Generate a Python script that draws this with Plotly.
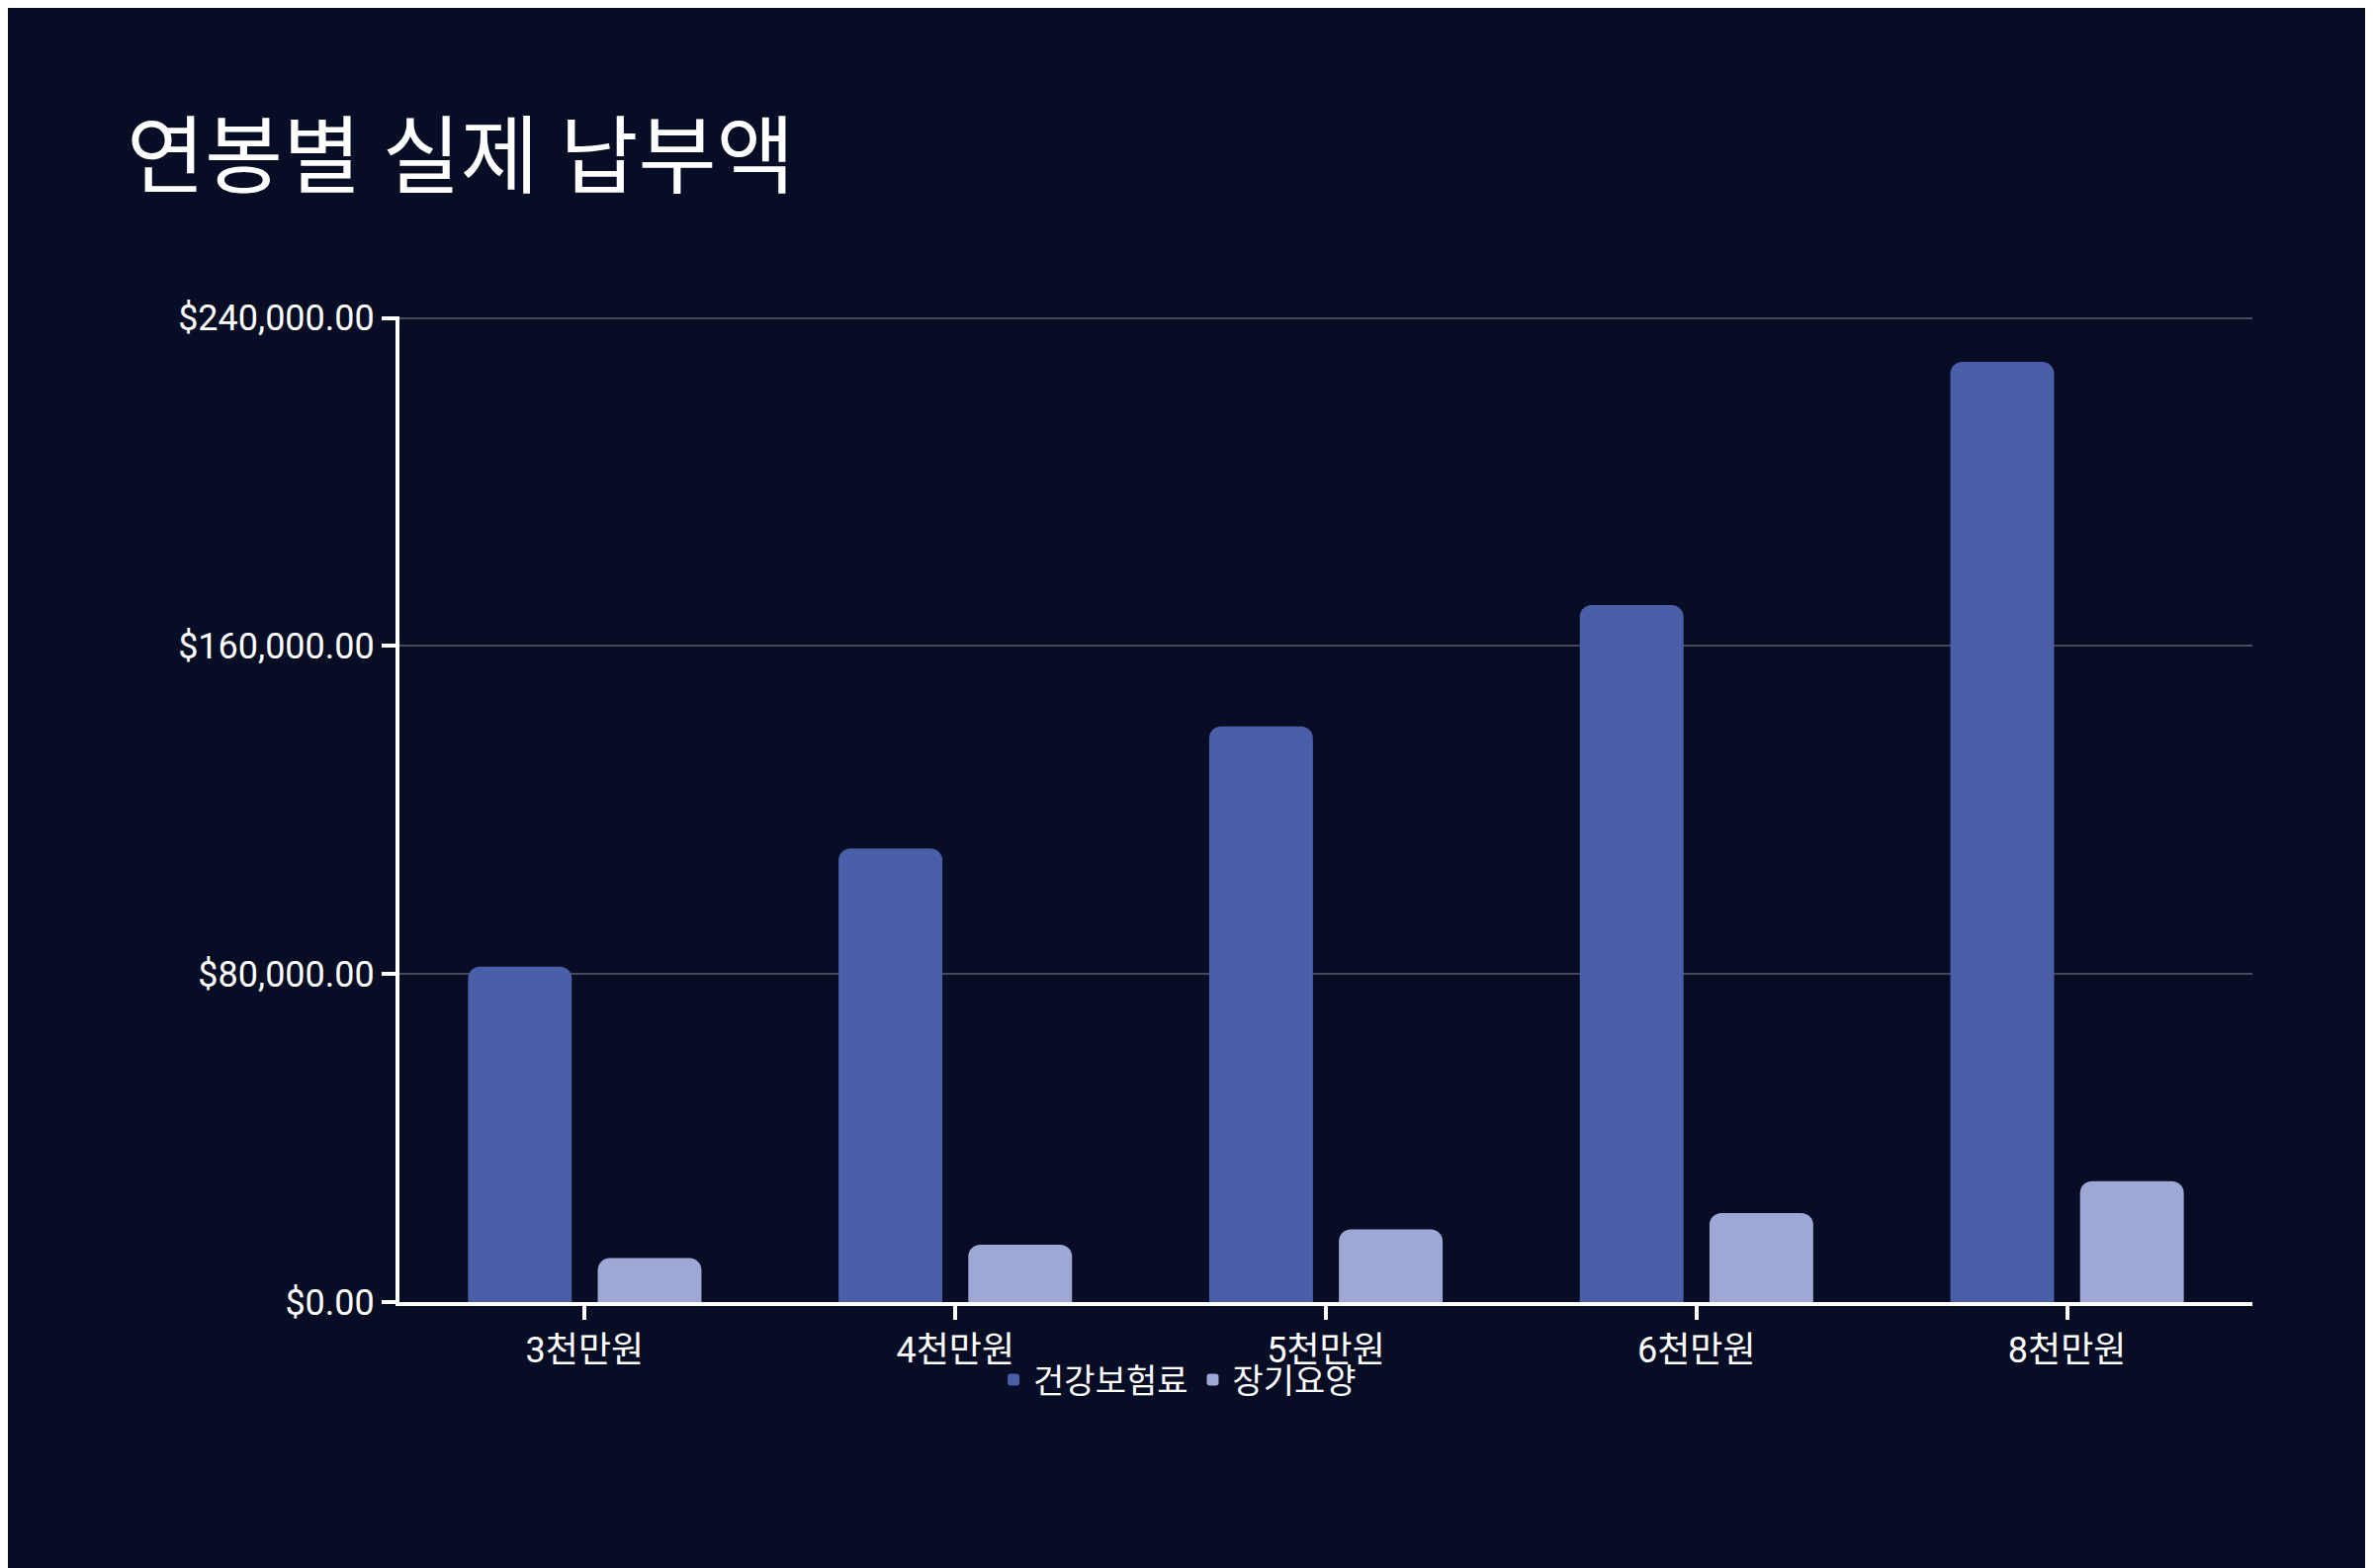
import plotly.graph_objects as go

categories = ["3천만원", "4천만원", "5천만원", "6천만원", "8천만원"]
health = [81800, 110600, 140400, 170000, 229300]
longterm = [10700, 14000, 17700, 21700, 29500]
tick_vals = [0, 80000, 160000, 240000]
tick_text = ["$0.00", "$80,000.00", "$160,000.00", "$240,000.00"]

fig = go.Figure()
fig.add_bar(x=categories, y=health, name="건강보험료", marker=dict(color="#4b5ea8", line=dict(width=0)))
fig.add_bar(x=categories, y=longterm, name="장기요양", marker=dict(color="#9fa8d5", line=dict(width=0)))

font = "Roboto, 'Noto Sans CJK KR', sans-serif"
fig.update_layout(
    width=2400, height=1586,
    paper_bgcolor="#080d26", plot_bgcolor="#080d26",
    barmode="group", bargap=0.3, bargroupgap=0.2, barcornerradius=12,
    margin=dict(l=396, r=130, t=312, b=277),
    title=dict(text="연봉별 실제 납부액", x=0.05, xanchor="left", y=0.905, yanchor="middle",
               font=dict(family=font, size=86, color="white")),
    font=dict(family=font, color="white", size=34),
    legend=dict(orientation="h", x=0.42, xanchor="center", y=-0.05, yanchor="top",
                font=dict(size=34), bgcolor="rgba(0,0,0,0)"),
    xaxis=dict(showline=True, linecolor="white", linewidth=4, ticks="outside",
               tickcolor="white", tickwidth=4, ticklen=14, tickfont=dict(size=36)),
    yaxis=dict(range=[0, 240400], tickvals=tick_vals, ticktext=tick_text,
               showline=True, linecolor="white", linewidth=4, ticks="outside",
               tickcolor="white", tickwidth=4, ticklen=14,
               gridcolor="rgba(255,255,255,0.25)", gridwidth=2, zeroline=False,
               tickfont=dict(size=36)),
)
fig.write_html("out.html")
